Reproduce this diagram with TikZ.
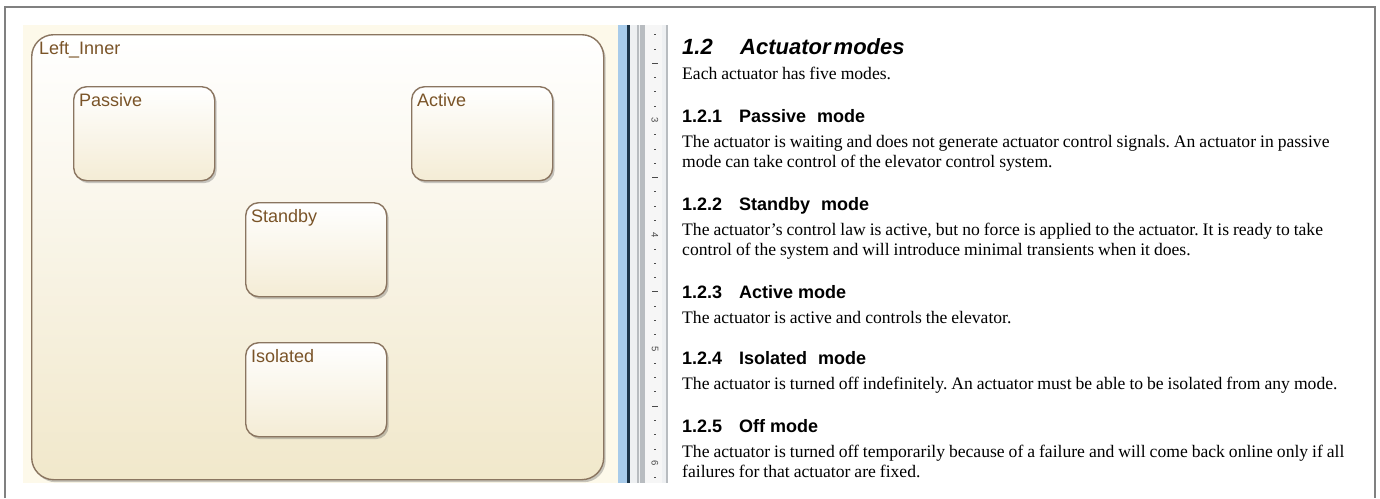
\documentclass[tikz,border=0pt]{standalone}
\usepackage{fontspec}
\setmainfont{Liberation Serif}[WordSpace=0.9]
\newfontfamily\arialfont{Liberation Sans}
\usetikzlibrary{shadows}
\frenchspacing
\definecolor{framec}{HTML}{808080}
\definecolor{panelc}{HTML}{FDF9EA}
\definecolor{stateborder}{HTML}{8A7560}
\definecolor{statebot}{HTML}{F4ECD5}
\definecolor{innerbot}{HTML}{F1E8CB}
\definecolor{labelc}{HTML}{7A5428}
\definecolor{splitblue}{HTML}{A8CBEA}
\definecolor{splitdark}{HTML}{1C3448}
\definecolor{splitlight}{HTML}{EEF0F2}
\definecolor{splitgray}{HTML}{B8BCC0}
\definecolor{rulerbg}{HTML}{F6F6F6}
\definecolor{rulerink}{HTML}{4A4A4A}
\tikzset{
  statebox/.style={draw=stateborder, line width=1.4pt, rounded corners=13pt,
    top color=white, bottom color=statebot, anchor=north west,
    minimum width=141pt, minimum height=94pt, inner sep=0pt,
    drop shadow={shadow xshift=2pt, shadow yshift=-2.5pt, opacity=0.3, fill=black!70}},
  outerbox/.style={statebox, rounded corners=22pt, bottom color=innerbot,
    minimum width=572pt, minimum height=445pt},
  lbl/.style={anchor=north west, inner sep=0pt, text=labelc,
    font=\arialfont\fontsize{18}{20}\selectfont, xshift=6pt, yshift=-7pt},
  titletext/.style={anchor=base west, inner sep=0pt,
    font=\arialfont\bfseries\itshape\fontsize{22}{26}\selectfont},
  headtext/.style={anchor=base west, inner sep=0pt,
    font=\arialfont\bfseries\fontsize{18}{21}\selectfont},
  bodytext/.style={anchor=base west, inner sep=0pt,
    font=\fontsize{17.6}{20}\selectfont},
  rulernum/.style={inner sep=0pt, rotate=-90, text=rulerink,
    font=\arialfont\fontsize{9.5}{10}\selectfont},
  rulertick/.style={draw=rulerink, line width=1pt},
}
\begin{document}
\begin{tikzpicture}[x=1pt,y=-1pt]
\useasboundingbox (0,0) rectangle (1380,498);
\fill[white] (0,0) rectangle (1380,498);
% outer window frame
\draw[framec, line width=1.5pt] (5,498) -- (5,7) -- (1375,7) -- (1375,498);
% left panel background
\fill[panelc] (23,25) rectangle (618,483);
% splitter
\fill[splitblue] (618,25) rectangle (627,483);
\fill[splitdark] (627,25) rectangle (630,483);
\fill[splitlight] (630,25) rectangle (645,483);
\fill[splitgray] (636.5,25) rectangle (638.5,483);
\fill[splitgray] (640,25) rectangle (645,483);
% ruler
\fill[rulerbg] (645,25) rectangle (662,483);
\fill[splitlight] (662,25) rectangle (665.5,483);
\fill[splitgray] (665.5,25) rectangle (667.5,483);
\foreach \k in {-6,...,25}{
  \pgfmathsetmacro\yy{120.5+\k*14.2857}
  \pgfmathtruncatemacro\m{mod(\k+48,8)}
  \ifnum\m=0
    \pgfmathtruncatemacro\num{3+\k/8}
    \node[rulernum] (r\k) at (655,\yy) {\num};
  \else\ifnum\m=4
    \draw[rulertick] (652,\yy) -- (657.5,\yy);
  \else
    \draw[rulertick] (654,\yy) -- (656,\yy);
  \fi\fi
}
% state chart
\node[outerbox, label={[lbl, xshift=2pt]north west:Left\_Inner}] (inner) at (31,34) {};
\node[statebox, label={[lbl]north west:Passive}] (passive) at (73,86) {};
\node[statebox, label={[lbl]north west:Active}] (active) at (411,86) {};
\node[statebox, label={[lbl]north west:Standby}] (standby) at (245,202) {};
\node[statebox, label={[lbl]north west:Isolated}] (isolated) at (245,342) {};
% document text
\node[titletext] (title) at (682,54) {\makebox[58pt][l]{1.2}Actuator\hspace{-3pt} modes};
\node[bodytext] (b0) at (682,79) {Each actuator has five modes.};
\node[headtext] (h1) at (682,122) {\makebox[57pt][l]{1.2.1}Passive\hspace{6pt} mode};
\node[bodytext] (b1a) at (682,147) {The actuator is waiting and does not generate actuator control signals. An actuator in passive};
\node[bodytext] (b1b) at (682,167) {mode can take control of the elevator control system.};
\node[headtext] (h2) at (682,210) {\makebox[57pt][l]{1.2.2}Standby\hspace{6pt} mode};
\node[bodytext] (b2a) at (682,235) {The actuator's control law is active, but no force is applied to the actuator. It is ready to take};
\node[bodytext] (b2b) at (682,255) {control of the system and will introduce minimal transients when it does.};
\node[headtext] (h3) at (682,298) {\makebox[57pt][l]{1.2.3}Active mode};
\node[bodytext] (b3a) at (682,323) {The actuator is active and controls the elevator.};
\node[headtext] (h4) at (682,364) {\makebox[57pt][l]{1.2.4}Isolated\hspace{6pt} mode};
\node[bodytext] (b4a) at (682,389) {The actuator is turned off indefinitely. An actuator must be able to be isolated from any mode.};
\node[headtext] (h5) at (682,432) {\makebox[57pt][l]{1.2.5}Off mode};
\node[bodytext] (b5a) at (682,457) {The actuator is turned off temporarily because of a failure and will come back online only if all};
\node[bodytext] (b5b) at (682,477) {failures for that actuator are fixed.};
\end{tikzpicture}
\end{document}
